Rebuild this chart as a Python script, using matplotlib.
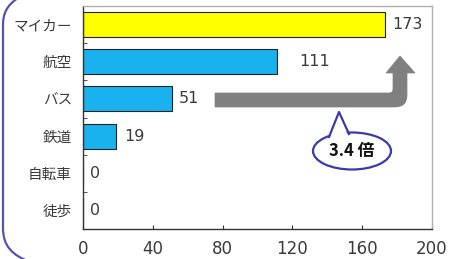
import matplotlib
matplotlib.use("Agg")
import matplotlib.pyplot as plt
from matplotlib.path import Path
from matplotlib.patches import PathPatch, Ellipse, Polygon
from matplotlib.transforms import Affine2D

plt.rcParams['font.family'] = ['Noto Sans CJK JP', 'DejaVu Sans']

categories = ["マイカー", "航空", "バス", "鉄道", "自転車", "徒歩"]
values = [173, 111, 51, 19, 0, 0]
bar_colors = ["#FFFF00", "#1AB2EE", "#1AB2EE", "#1AB2EE", "#1AB2EE", "#1AB2EE"]
xticks = [0, 40, 80, 120, 160, 200]
label_offsets = [5, 16, 5, 6, 5, 5]
callout_text = "3.4 倍"

W, H = 449, 259
fig = plt.figure(figsize=(W / 100, H / 100), dpi=100)
ax = fig.add_axes([83 / W, (H - 229) / H, (432 - 83) / W, (229 - 6) / H])

ypos = list(range(len(categories)))
ax.barh(ypos, values, height=0.67, color=bar_colors, edgecolor="#222222", linewidth=0.8, zorder=2)
ax.set_ylim(len(categories) - 0.5, -0.5)
ax.set_xlim(0, 200)
ax.set_yticks(ypos)
ax.set_yticklabels(categories, fontsize=10.5, color="#3a3a3a")
ax.set_yticks([i + 0.5 for i in range(len(categories) - 1)], minor=True)
ax.tick_params(axis='y', which='major', length=0, pad=8)
ax.tick_params(axis='y', which='minor', length=3, direction='in', color="#333333")
ax.set_xticks(xticks)
ax.set_xticklabels([str(t) for t in xticks], fontsize=12, color="#3a3a3a",
                   family='DejaVu Sans')
ax.tick_params(axis='x', length=3, direction='in', pad=8, color="#333333")
for s in ['left', 'bottom']:
    ax.spines[s].set_color("#333333")
    ax.spines[s].set_linewidth(1.0)
for s in ['top', 'right']:
    ax.spines[s].set_color("#b0b0b0")
    ax.spines[s].set_linewidth(1.0)

for i, (v, off) in enumerate(zip(values, label_offsets)):
    ax.annotate(str(v), xy=(v, i), xytext=(off, 0), textcoords='offset points',
                va='center', ha='left', fontsize=11.5, color="#3a3a3a",
                family='DejaVu Sans')

# pixel-coordinate transform (origin top-left)
pix = Affine2D().scale(1 / W, -1 / H).translate(0, 1) + fig.transFigure

# gray bent arrow
verts = [(215, 93), (389, 93), (393, 93), (393, 89), (393, 73), (386, 73), (400, 56),
         (415, 73), (407, 73), (407, 95), (407, 107), (395, 107), (215, 107), (215, 93)]
codes = [Path.MOVETO, Path.LINETO, Path.CURVE3, Path.CURVE3, Path.LINETO, Path.LINETO,
         Path.LINETO, Path.LINETO, Path.LINETO, Path.LINETO, Path.CURVE3, Path.CURVE3,
         Path.LINETO, Path.CLOSEPOLY]
arrow = PathPatch(Path(verts, codes), facecolor="#808080", edgecolor="#808080",
                  linewidth=0.5, transform=pix, zorder=3)
fig.patches.append(arrow)

# callout ellipse
ell = Ellipse((352, 151), 78, 37, facecolor="white", edgecolor="#3a3aa8",
              linewidth=1.6, transform=pix, zorder=4)
fig.patches.append(ell)
ptr_fill = Polygon([(330, 137), (339, 112), (348, 136)], closed=True, facecolor="white",
                   edgecolor="none", transform=pix, zorder=5)
fig.patches.append(ptr_fill)
line1 = plt.Line2D([329, 339, 349], [137, 112, 134], color="#3a3aa8", linewidth=1.6,
                   transform=pix, zorder=6)
fig.lines.append(line1)
fig.text(352 / W, 1 - 151 / H, callout_text, ha='center', va='center', fontsize=12,
         fontweight='bold', color="#111111", zorder=7)

# left rounded frame
fv = [(18, -2), (6, 6), (3, 14), (3, 26), (3, 228), (3, 246), (12, 255), (30, 262)]
fc = [Path.MOVETO, Path.CURVE4, Path.CURVE4, Path.CURVE4, Path.LINETO, Path.CURVE4,
      Path.CURVE4, Path.CURVE4]
frame = PathPatch(Path(fv, fc), facecolor="none", edgecolor="#5a52a8", linewidth=1.6,
                  transform=pix, zorder=1)
fig.patches.append(frame)

fig.savefig("out.png", dpi=100)
